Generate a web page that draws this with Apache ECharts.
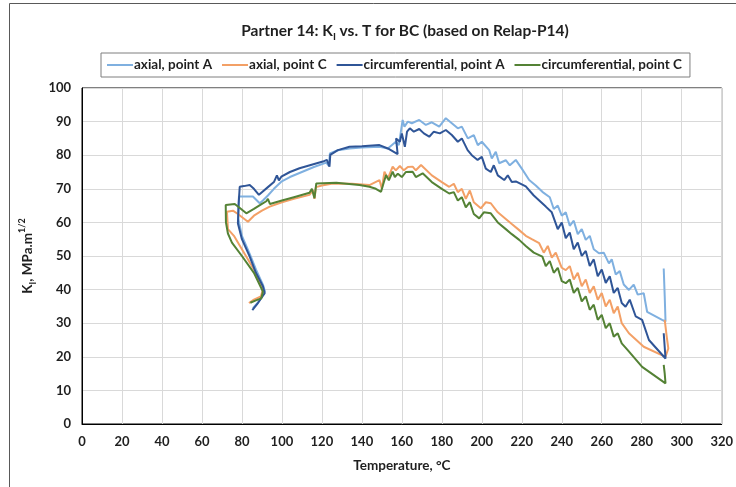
<!DOCTYPE html>
<html>
<head>
<meta charset="utf-8">
<script src="https://cdn.jsdelivr.net/npm/echarts@6/dist/echarts.min.js"></script>
<style>
  html, body { margin: 0; padding: 0; background: #fff; }
  #chart { width: 736px; height: 487px; }
</style>
</head>
<body>
<div id="chart"></div>
<script>
// Temperature (°C) vs stress intensity factor K_I (MPa·m^1/2) along each crack point
const seriesNames = ['axial, point A', 'axial, point C', 'circumferential, point A', 'circumferential, point C'];
const seriesColors = ['#7FB0E0', '#F3A066', '#2F5597', '#548235'];

const axialA = [
  [85.5,34.5],[88.5,36.5],[91.5,39.5],[90.5,41.5],[87,46],[84,50.5],[80,56],[78.2,61],[78.5,67.7],[82,67.7],
  [85.5,67.7],[88.9,65.7],[90.5,66.5],[93,68],[96,70],[99.7,72.1],[104,73.5],[110,75],[116,76.5],[122.2,77.8],
  [123.5,76.8],[124,80.5],[128,81.5],[133.8,82],[140,82.3],[148.8,82.5],[153,82],[157,84],[158.5,83],[160.4,90.5],
  [161.3,88.5],[163,90],[165,89.5],[168.7,90.5],[172,89],[175,89.8],[178.7,88.5],[182,91],[185,89.5],[188,88],
  [190,88.5],[193,85],[196,86],[198,83],[200,84],[203.7,81.5],[205,79],[207,81],[208.7,77.6],[212,78.5],
  [214,77],[217,78.6],[220,76],[223.7,72.6],[227,71],[230.3,69.1],[234,67.5],[236,64],[238,65],[240,62],
  [242,63],[244,59],[246,60.5],[248,56.5],[250,58],[252,54.8],[254,56],[256,52],[258.6,50.8],[261,51],
  [263.6,47.8],[265,49],[267,44.5],[269,45.5],[271,41.5],[273.6,39.9],[276,41.5],[278,38.5],[281,38.9],[282.7,33.4],
  [290.2,31],[291.9,30.5],[291.5,38],[291,46.3]
];

const axialC = [
  [83.5,36],[86,37],[89.5,38],[90.5,40],[86,46],[80,52],[76,56],[73,58],[72.5,63.2],[75.5,63.5],
  [78,62.5],[83,60.2],[86,62],[90,63.5],[93.9,64.7],[100,66],[106,67],[113.8,68.2],[115.5,69.6],[116.3,67],
  [117,70.5],[120,71],[125.5,71.6],[135,71.5],[143.8,71.1],[148.8,72.6],[150,70],[151.3,75.1],[153,73],[155.4,76.6],
  [157,75.5],[159,76.8],[161,75.5],[163,76.5],[165.4,76.6],[167,75.5],[169.6,77.1],[175,74],[180,72],[183.7,70.6],
  [186,71.5],[188,69],[190,70],[192,67],[194,69.5],[196,66],[199.5,64.2],[202,66],[204.5,65.7],[208,63],
  [212,61],[215,59.5],[218.7,57.7],[222,56],[225,55],[228.7,53.8],[231,51],[233,53],[235,49.5],[237,51],
  [240,46.5],[242,45.8],[244,47],[246,43],[248,45],[250,41],[252,43],[254,39],[256,41],[258,37],
  [260,39],[262,35],[264,37],[266,33],[268,35],[270,30],[273.6,27],[281,23],[291.9,20],[293.3,22.5],
  [292.5,26],[291.5,31]
];

const circA = [
  [85.2,33.9],[88,36],[91.4,38.9],[90.5,41],[87,45],[83.9,49.8],[80,55],[78,59.7],[78.3,65],[78.9,70.6],
  [81,70.8],[83.9,71.1],[86,70],[88.5,68.2],[90,69],[93,70.5],[96,72],[97.5,74],[98.5,72.5],[99.7,73.6],
  [104,75],[108.8,76.1],[114,77],[120.5,78.1],[122.5,78.6],[123.8,76.6],[124.2,80.1],[128,81.5],[133.8,82.5],[140,82.7],
  [148.8,83],[153,82],[157.9,80.3],[157.1,85],[159,84],[160,86.5],[161.5,82.5],[162.6,87],[164,88],[166,87],
  [168.7,87.8],[171,86.5],[173.7,85.5],[176,87],[179,86.5],[182,87.5],[185,86],[188,84],[190,85],[192.9,81.5],
  [195,80],[197.9,78.6],[200,79.5],[202,76],[204.5,75],[206,77],[208,74],[211.2,72.6],[213,74],[215,72],
  [217,72.2],[222,70.7],[226,68],[232,64.7],[235,63],[238,58],[240,60],[242,55.3],[244,57],[246,52],
  [248,54],[250,50],[252,51.5],[254,47],[256,49],[258,44],[260,46],[262,42],[264,44],[266,39],
  [268,40.5],[270,36],[271.9,34.9],[274,37],[277,32],[280.2,31],[283.6,25],[291.9,19.5],[291,27]
];

const circC = [
  [84.2,36.1],[87,36.8],[89.7,37.4],[90.5,39.4],[86,45],[80,50],[75,54],[73,56.7],[72,60],[71.9,65.2],
  [76.4,65.5],[78.5,64.5],[82.2,62.7],[86,64],[90,65.5],[92.2,66.3],[93,67],[94,65.5],[100,66.5],[106,67.5],
  [113.8,68.8],[115,70],[116.3,67.2],[117.2,71.6],[127.2,71.8],[138.8,71.1],[143.8,70.6],[147,70],[149.6,69.1],[150.5,71],
  [152.1,74.1],[153.5,72.5],[155.4,75.1],[156.5,73.5],[158,74.5],[160,73.5],[162,75],[165.4,75.1],[167,73.5],[170.4,74.6],
  [175,72],[180,70],[183.7,68.6],[186,69],[188,66.5],[190,67.5],[192,64.5],[194,66],[196,62.5],[198.7,61.2],
  [201,63],[204.5,62.7],[208,60],[212,58],[215,56.5],[218.7,54.8],[222,53],[226,51],[230.3,49.8],[232,47],
  [234,48.5],[236,45],[238,46.5],[240,42.5],[242,41.9],[244,43],[246,39],[248,40.5],[250,36.5],[252,38],
  [254,34],[256,35.5],[258,31],[260,32.5],[262,28.5],[264,30],[266,26],[268,27],[270,24],[273,22],
  [280.2,17],[291.9,12.1],[292.5,12.5],[291.5,15],[291,17.6]
];

const allData = [axialA, axialC, circA, circC];

const FONT = 'Lato, "Open Sans", sans-serif';
const INK = '#1F1F1F';
const chart = echarts.init(document.getElementById('chart'));

chart.setOption({
  backgroundColor: '#ffffff',
  animation: false,
  textStyle: { fontFamily: FONT },
  graphic: [{
    type: 'rect',
    shape: { x: 9.5, y: 3.5, width: 760, height: 520 },
    style: { fill: 'none', stroke: '#595959', lineWidth: 1 },
    silent: true
  }],
  title: {
    text: '{t|Partner 14: K}{s|I}{t| vs. T for BC (based on Relap-P14)}',
    left: 400,
    textAlign: 'center',
    top: 15,
    textStyle: {
      rich: {
        t: { fontFamily: FONT, fontSize: 15.5, fontWeight: 'bold', color: INK, lineHeight: 22, verticalAlign: 'middle' },
        s: { fontFamily: FONT, fontSize: 10, fontWeight: 'bold', color: INK, lineHeight: 22, verticalAlign: 'bottom' }
      }
    }
  },
  legend: {
    data: seriesNames,
    left: 101,
    top: 53,
    width: 596,
    padding: [5, 8, 5, 6],
    borderColor: '#7F7F7F',
    borderWidth: 1,
    itemGap: 10,
    itemWidth: 26,
    itemHeight: 2,
    icon: 'rect',
    textStyle: { fontFamily: FONT, fontSize: 13.5, fontWeight: 'bold', color: INK, padding: [0, 0, 0, -4] }
  },
  grid: {
    left: 82, top: 88, right: 13, bottom: 63,
    containLabel: false,
    show: true,
    borderColor: '#000000',
    borderWidth: 1
  },
  xAxis: {
    type: 'value',
    min: 0, max: 320, interval: 20,
    name: 'Temperature, °C',
    nameLocation: 'middle',
    nameGap: 35,
    nameTextStyle: { fontFamily: FONT, fontSize: 13.5, fontWeight: 'bold', color: INK },
    axisLine: { show: true, lineStyle: { color: '#000000', width: 1 } },
    axisTick: { show: false },
    axisLabel: { fontFamily: FONT, fontSize: 13, fontWeight: 'bold', color: INK, margin: 11 },
    splitLine: { show: true, lineStyle: { color: '#D9D9D9', width: 1 } }
  },
  yAxis: {
    type: 'value',
    min: 0, max: 100, interval: 10,
    name: '{t|K}{s|I}{t|, MPa.m}{p|1/2}',
    nameLocation: 'middle',
    nameGap: 42,
    nameRotate: 90,
    nameTextStyle: {
      rich: {
        t: { fontFamily: FONT, fontSize: 13.5, fontWeight: 'bold', color: INK, lineHeight: 20, verticalAlign: 'middle' },
        s: { fontFamily: FONT, fontSize: 9, fontWeight: 'bold', color: INK, lineHeight: 20, verticalAlign: 'bottom' },
        p: { fontFamily: FONT, fontSize: 9, fontWeight: 'bold', color: INK, lineHeight: 20, verticalAlign: 'top' }
      }
    },
    axisLine: { show: true, lineStyle: { color: '#000000', width: 1 } },
    axisTick: { show: false },
    axisLabel: { fontFamily: FONT, fontSize: 13, fontWeight: 'bold', color: INK, margin: 11 },
    splitLine: { show: true, lineStyle: { color: '#D9D9D9', width: 1 } }
  },
  series: seriesNames.map((name, i) => ({
    name: name,
    type: 'line',
    data: allData[i],
    showSymbol: false,
    symbol: 'none',
    smooth: false,
    color: seriesColors[i],
    lineStyle: { width: 2, color: seriesColors[i] }
  }))
});
</script>
</body>
</html>
